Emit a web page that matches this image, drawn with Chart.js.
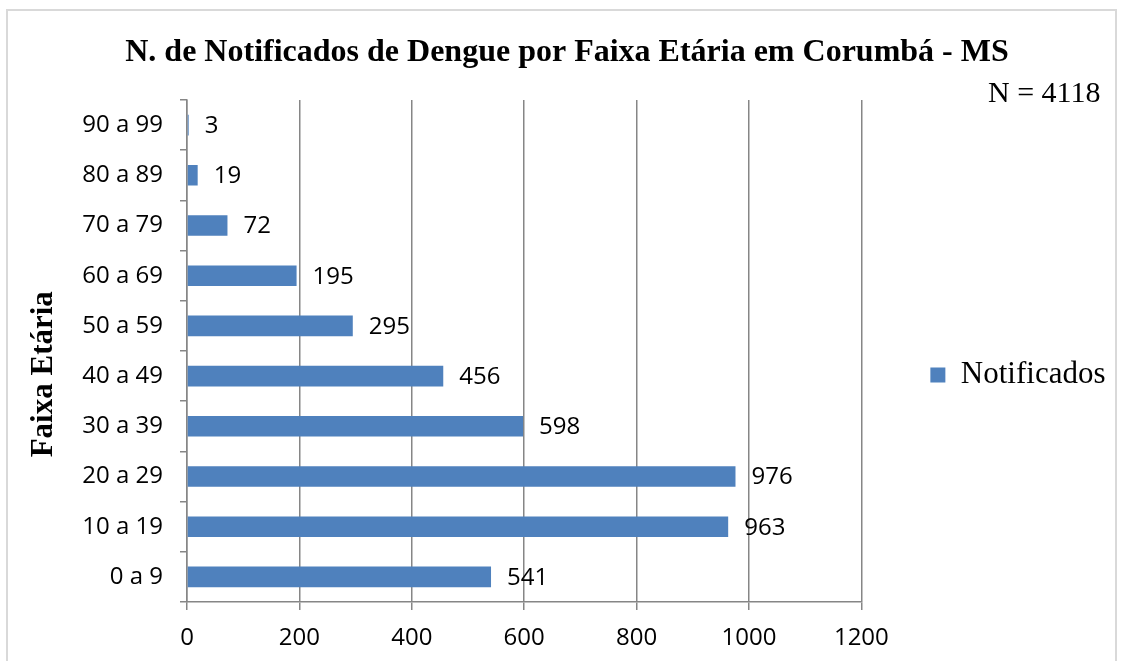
<!DOCTYPE html>
<html>
<head>
<meta charset="utf-8">
<script src="https://cdn.jsdelivr.net/npm/chart.js@4/dist/chart.umd.min.js"></script>
<style>
  body { margin: 0; background: #fff; }
  canvas { display: block; }
</style>
</head>
<body>
<canvas id="myChart" width="1124" height="661"></canvas>
<script>
// dados do gráfico
var faixas = ['0 a 9', '10 a 19', '20 a 29', '30 a 39', '40 a 49', '50 a 59', '60 a 69', '70 a 79', '80 a 89', '90 a 99'];
var notificados = [541, 963, 976, 598, 456, 295, 195, 72, 19, 3];
var xTicks = [0, 200, 400, 600, 800, 1000, 1200];

var serif = "'Liberation Serif', 'Times New Roman', serif";
var sans = "'Open Sans', 'Liberation Sans', sans-serif";
var gray = '#868686';

// moldura + fundo branco
var frame = {
  id: 'frame',
  beforeDraw: function(chart) {
    var c = chart.ctx;
    c.save();
    c.fillStyle = '#fff';
    c.fillRect(0, 0, chart.width, chart.height);
    c.strokeStyle = '#d9d9d9';
    c.lineWidth = 2;
    c.strokeRect(7, 10, 1109, 660);
    c.restore();
  }
};

// rótulos de valor à direita das barras
var valueLabels = {
  id: 'valueLabels',
  afterDatasetsDraw: function(chart) {
    var c = chart.ctx;
    var meta = chart.getDatasetMeta(0);
    c.save();
    c.font = '24px ' + sans;
    c.fillStyle = '#000';
    c.textAlign = 'left';
    c.textBaseline = 'middle';
    meta.data.forEach(function(bar, i) {
      c.fillText(notificados[i], bar.x + 16, bar.y + 1);
    });
    c.restore();
  }
};

var ctx = document.getElementById('myChart');
var chart = new Chart(ctx, {
  type: 'bar',
  data: {
    labels: faixas,
    datasets: [{
      label: 'Notificados',
      data: notificados,
      backgroundColor: '#4F81BD',
      borderWidth: 0,
      barPercentage: 0.41,
      categoryPercentage: 1
    }]
  },
  options: {
    indexAxis: 'y',
    responsive: false,
    animation: false,
    layout: { padding: { left: 18.5, right: 8.5, top: 10, bottom: 0 } },
    plugins: {
      title: {
        display: true,
        text: 'N. de Notificados de Dengue por Faixa Etária em Corumbá - MS',
        color: '#000',
        font: { family: serif, size: 32, weight: 'bold', lineHeight: 1 },
        padding: { top: 27, bottom: 0 }
      },
      subtitle: {
        display: true,
        text: 'N = 4118  ',
        align: 'end',
        color: '#000',
        font: { family: serif, size: 30, lineHeight: 1 },
        padding: { top: 10, bottom: -9 }
      },
      legend: {
        position: 'right',
        fullSize: false,
        title: { display: true, text: '', font: { size: 20, lineHeight: 1 }, padding: { top: 28, bottom: 0 } },
        labels: {
          color: '#000',
          font: { family: serif, size: 31 },
          boxWidth: 15,
          boxHeight: 15,
          padding: 69
        }
      },
      tooltip: { enabled: false }
    },
    scales: {
      x: {
        min: 0,
        max: 1200,
        afterBuildTicks: function(scale) {
          scale.ticks = xTicks.map(function(v) { return { value: v }; });
        },
        afterFit: function(scale) { scale.height = 59; },
        grid: { color: gray, lineWidth: 1.5, tickLength: 8 },
        border: { display: true, color: gray, width: 1.5 },
        ticks: {
          color: '#000',
          font: { family: sans, size: 24 },
          padding: 14,
          maxRotation: 0,
          callback: function(v) { return String(v); }
        }
      },
      y: {
        reverse: true,
        afterFit: function(scale) { scale.width = 168.5; },
        grid: { drawOnChartArea: false, color: gray, lineWidth: 1.5, tickLength: 7 },
        border: { display: true, color: gray, width: 1.5 },
        ticks: { color: '#000', font: { family: sans, size: 24 }, padding: 17 },
        title: {
          display: true,
          text: 'Faixa Etária      ',
          color: '#000',
          font: { family: serif, size: 31, weight: 'bold', lineHeight: 1.2 },
          padding: { top: 7, bottom: 0 }
        }
      }
    }
  },
  plugins: [frame, valueLabels]
});
</script>
</body>
</html>
